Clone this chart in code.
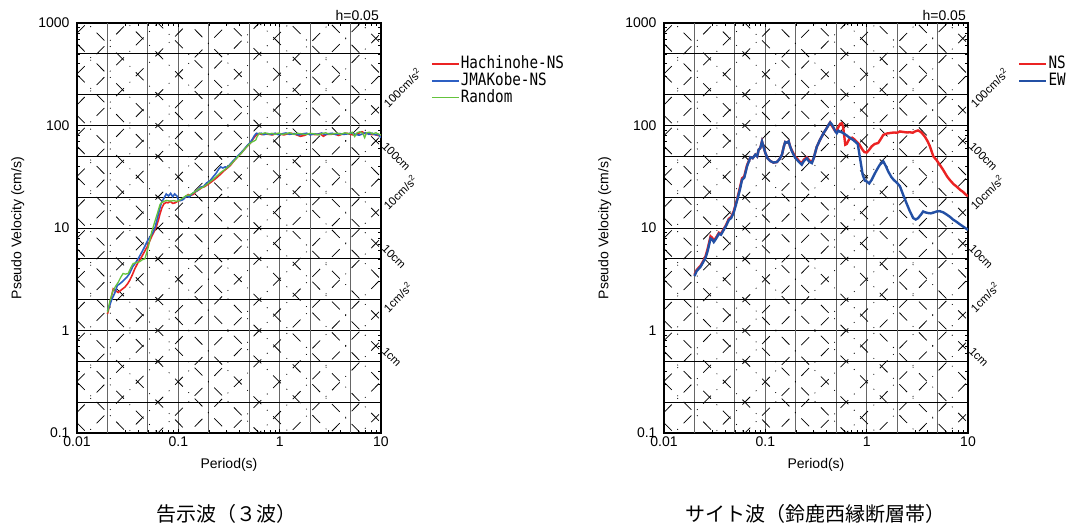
\documentclass[border=0pt]{standalone}
\usepackage{fontspec}
\setmainfont{Liberation Sans}
\newfontfamily\cjk{Noto Sans CJK JP}
\newfontfamily\legfont[FakeStretch=0.84]{DejaVu Sans Mono}
\usepackage{pgfplots}
\pgfplotsset{compat=1.18}

\definecolor{nsred}{RGB}{235,35,35}
\definecolor{ewblue}{RGB}{35,80,165}
\definecolor{kobeblue}{RGB}{45,95,195}
\definecolor{rndgreen}{RGB}{100,195,60}

\tikzset{
  diagline/.style={black, line width=0.75pt, dash pattern=on 11pt off 8pt on 0.9pt off 8pt},
  trilab/.style={font=\fontsize{11.5}{12}\selectfont, inner sep=0pt, anchor=west},
}
\pgfplotsset{
  legend image code/.code={\draw[#1] (0pt,0pt) -- (27pt,0pt);},
}
\newcommand\axisopts{
    xmode=log, ymode=log,
    xmin=0.01, xmax=10, ymin=0.1, ymax=1000,
    scale only axis, width=304pt, height=410pt,
    clip mode=individual,
    axis line style={line width=1.1pt},
    xtick={0.01,0.1,1,10}, xticklabels={0.01,0.1,1,10},
    ytick={0.1,1,10,100,1000}, yticklabels={0.1,1,10,100,1000},
    extra x ticks={0.02,0.05,0.2,0.5,2,5},
    extra y ticks={0.2,0.5,2,5,20,50,200,500},
    extra x tick labels={}, extra y tick labels={},
    extra tick style={grid=major, major tick length=0pt},
    grid=major,
    major x grid style={black!60, line width=1.1pt},
    major y grid style={black, line width=0.8pt},
    tick style={black, line width=0.6pt},
    tick label style={font=\fontsize{14}{16}\selectfont},
    yticklabel style={xshift=-4pt},
    xlabel={Period(s)}, ylabel={Pseudo Velocity (cm/s)},
    label style={font=\fontsize{14}{16}\selectfont},
    xlabel style={at={(axis description cs:0.5,-0.078)}, anchor=center},
    ylabel style={at={(axis description cs:-0.195,0.5)}, anchor=center},
    legend style={at={(1,1)}, anchor=north west, xshift=50pt, yshift=-33pt,
      draw=none, fill=none, inner sep=0pt, row sep=2pt,
      font=\legfont\fontsize{17}{17}\selectfont,
      nodes={inner sep=1pt, text height=11pt, text depth=2pt}},
    legend cell align=left}

% lines of constant acceleration (cm/s^2) and displacement (cm)
\newcommand\acc[2]{%
  \addplot[diagline, forget plot] coordinates {(0.01,1.59155e#1)(10,1.59155e#2)};
  \addplot[diagline, forget plot] coordinates {(0.01,3.18310e#1)(10,3.18310e#2)};
  \addplot[diagline, forget plot] coordinates {(0.01,7.95775e#1)(10,7.95775e#2)};}
\newcommand\dis[2]{%
  \addplot[diagline, forget plot] coordinates {(0.01,6.28319e#1)(10,6.28319e#2)};
  \addplot[diagline, forget plot] coordinates {(0.01,12.5664e#1)(10,12.5664e#2)};
  \addplot[diagline, forget plot] coordinates {(0.01,31.4159e#1)(10,31.4159e#2)};}
\newcommand\diaglines{%
  \acc{-4}{-1}\acc{-3}{0}\acc{-2}{1}\acc{-1}{2}\acc{0}{3}\acc{1}{4}\acc{2}{5}%
  \dis{-2}{-5}\dis{-1}{-4}\dis{0}{-3}\dis{1}{-2}\dis{2}{-1}\dis{3}{0}\dis{4}{1}\dis{5}{2}}
\newcommand\trilabels{%
  \node[trilab, rotate=45] at ([xshift=4pt]axis cs:10,159.155) {100cm/s\textsuperscript{2}};
  \node[trilab, rotate=-45] at ([xshift=3pt,yshift=2pt]axis cs:10,62.832) {100cm};
  \node[trilab, rotate=45] at ([xshift=4pt]axis cs:10,15.9155) {10cm/s\textsuperscript{2}};
  \node[trilab, rotate=-45] at ([xshift=3pt,yshift=2pt]axis cs:10,6.2832) {10cm};
  \node[trilab, rotate=45] at ([xshift=4pt]axis cs:10,1.59155) {1cm/s\textsuperscript{2}};
  \node[trilab, rotate=-45] at ([xshift=3pt,yshift=2pt]axis cs:10,0.62832) {1cm};
  \node[anchor=south east, inner sep=2pt, font=\fontsize{14}{16}\selectfont] at (rel axis cs:1,1) {h=0.05};}

\begin{document}
\begin{tikzpicture}[x=1pt,y=1pt]
\path[use as bounding box] (0,0) rectangle (1071,528);

\expandafter\axis\expandafter[\axisopts, at={(77pt,95pt)}, anchor=south west]
\diaglines
\addplot[nsred, line width=1.6pt] coordinates {
(0.020,1.45)(0.0205,1.6)(0.0213,1.9)(0.022,2.2)(0.0228,2.55)(0.024,2.45)(0.0255,2.35)
(0.0275,2.5)(0.0297,2.65)(0.0315,2.85)(0.0332,3.1)(0.0352,3.5)(0.0372,4.0)(0.040,4.6)
(0.0433,5.2)(0.046,5.8)(0.0494,6.6)(0.052,7.4)(0.0544,8.2)(0.058,9.3)(0.061,10.5)
(0.064,12.2)(0.066,13.8)(0.069,15.8)(0.072,17.2)(0.076,17.8)(0.079,17.6)(0.083,18.2)
(0.088,17.4)(0.093,17.6)(0.098,18.2)(0.104,18.6)(0.110,19.3)(0.118,20.0)(0.125,21.2)
(0.132,20.8)(0.141,21.3)(0.150,22.8)(0.160,23.6)(0.170,24.8)(0.180,25.2)(0.198,26.8)
(0.215,28.5)(0.235,30.5)(0.255,32.8)(0.279,35.8)(0.300,38.0)(0.325,40.6)(0.350,44.5)
(0.379,48.6)(0.410,52.5)(0.445,58.0)(0.480,63.0)(0.513,67.0)(0.545,73.5)(0.575,79.0)
(0.600,82.0)(0.63,83.5)(0.67,81.5)(0.72,83)(0.78,82)(0.85,81)(0.92,83.5)(1.0,82.5)
(1.1,81)(1.2,83)(1.3,84)(1.45,81.5)(1.6,78.5)(1.75,80)(1.9,83)(2.1,82)(2.3,81.5)
(2.5,83.5)(2.7,78.5)(2.9,82)(3.2,82)(3.5,83)(3.8,80)(4.2,82.5)(4.6,84)(5.0,82)
(5.5,80.5)(6.0,84)(6.5,87)(7.0,83)(7.5,84)(8.0,81.5)(8.7,82)(9.3,80)(10,79.5)};
\addlegendentry{Hachinohe-NS}
\addplot[kobeblue, line width=1.6pt] coordinates {
(0.020,1.55)(0.021,1.75)(0.022,2.0)(0.0235,2.3)(0.025,2.75)(0.027,2.9)(0.029,3.1)
(0.031,3.3)(0.033,3.6)(0.0355,4.2)(0.038,4.6)(0.041,5.2)(0.044,5.9)(0.047,6.7)
(0.050,7.6)(0.053,8.3)(0.056,9.0)(0.059,10.2)(0.062,12.3)(0.065,15.0)(0.068,17.5)
(0.072,19.5)(0.076,21.5)(0.080,20.5)(0.084,21.8)(0.088,20.2)(0.092,21.5)(0.097,20.5)
(0.100,18.8)(0.105,18.5)(0.112,19.0)(0.120,20.5)(0.128,20.0)(0.136,21.5)(0.145,22.5)
(0.155,23.2)(0.165,25.0)(0.178,25.5)(0.190,27.5)(0.205,28.8)(0.220,31.5)(0.235,34.0)
(0.250,37.5)(0.262,39.5)(0.275,38.5)(0.290,39.5)(0.305,39.0)(0.325,42.0)(0.350,45.5)
(0.379,49.5)(0.410,53.5)(0.445,58.5)(0.480,64.0)(0.513,68.5)(0.54,74)(0.565,80)
(0.59,84)(0.62,83)(0.66,84)(0.70,81.5)(0.76,83.5)(0.82,82)(0.90,84)(0.97,81.5)
(1.05,83)(1.15,84.5)(1.25,82)(1.4,83.5)(1.55,81)(1.7,83)(1.85,84)(2.0,81)(2.2,83)
(2.4,82)(2.6,84.5)(2.8,81.5)(3.0,83)(3.3,84)(3.6,81.5)(3.9,83.5)(4.3,82)(4.7,83)
(5.1,84.5)(5.6,82)(6.1,80.5)(6.6,83)(7.1,85)(7.6,82)(8.2,84)(8.8,81)(9.4,82)(10,76)};
\addlegendentry{JMAKobe-NS}
\addplot[rndgreen, line width=1.3pt] coordinates {
(0.020,1.5)(0.021,1.9)(0.0225,2.4)(0.024,2.7)(0.0255,2.95)(0.027,3.3)(0.0285,3.6)
(0.030,3.55)(0.032,3.6)(0.034,4.1)(0.0358,4.5)(0.0387,4.6)(0.0417,4.7)(0.044,4.9)
(0.0468,5.0)(0.0505,6.5)(0.0545,9.1)(0.059,11.8)(0.062,13.8)(0.066,17.0)(0.069,17.8)
(0.072,18.2)(0.077,18.6)(0.083,18.3)(0.090,18.5)(0.097,18.2)(0.104,18.8)(0.112,19.8)
(0.120,20.8)(0.130,21.0)(0.140,22.0)(0.150,23.0)(0.162,24.2)(0.175,25.0)(0.190,26.5)
(0.205,28.2)(0.222,30.0)(0.240,32.2)(0.262,34.8)(0.285,37.0)(0.310,39.5)(0.335,42.5)
(0.360,46.0)(0.390,50.0)(0.420,54.0)(0.455,59.5)(0.490,64.5)(0.525,68.5)(0.55,70)
(0.58,72)(0.60,78)(0.63,84)(0.67,83)(0.72,85)(0.78,82.5)(0.84,84)(0.90,82)(0.98,84.5)
(1.06,82)(1.15,83)(1.25,85)(1.38,82)(1.5,84)(1.65,83)(1.8,81.5)(2.0,84)(2.2,83)
(2.4,81)(2.6,83.5)(2.85,85)(3.1,82)(3.4,83)(3.7,84.5)(4.0,82)(4.4,85)(4.8,83)
(5.2,86)(5.5,78)(5.8,85)(6.2,87)(6.6,84)(6.9,76)(7.2,85)(7.7,86)(8.3,83)(8.9,85)
(9.5,82)(10,81)};
\addlegendentry{Random}
\trilabels
\endaxis

\expandafter\axis\expandafter[\axisopts, at={(664pt,95pt)}, anchor=south west]
\diaglines
\addplot[nsred, line width=2.4pt] coordinates {
(0.020,3.5)(0.021,3.9)(0.023,4.3)(0.0245,4.8)(0.0257,5.3)(0.027,6.3)(0.0288,8.3)
(0.030,8.0)(0.031,7.5)(0.033,8.2)(0.0348,9.0)(0.0365,8.8)(0.0389,9.8)(0.041,10.7)
(0.0436,12.3)(0.046,12.8)(0.0488,14.6)(0.0526,19.0)(0.056,24.5)(0.0589,30.5)(0.062,32)
(0.066,41)(0.0712,49)(0.075,48)(0.0798,52)(0.083,50)(0.0859,58)(0.089,60)(0.0927,70)
(0.096,62)(0.100,54)(0.105,48)(0.112,45)(0.120,43.5)(0.130,44)(0.138,47)(0.146,52)
(0.152,62)(0.157,69)(0.163,68)(0.170,70)(0.176,62)(0.183,57)(0.190,53)(0.198,49)
(0.205,48)(0.215,45)(0.229,43)(0.240,46.5)(0.257,49)(0.270,46)(0.288,44)(0.300,48)
(0.322,62)(0.345,72)(0.375,84)(0.400,93)(0.420,101)(0.436,107)(0.452,100)(0.470,94)
(0.490,88)(0.510,90)(0.530,98)(0.547,104)(0.567,105)(0.585,98)(0.600,80)(0.615,65)
(0.635,66)(0.655,70)(0.680,75)(0.72,76)(0.76,73)(0.80,69)(0.85,65)(0.90,59)(0.95,55)
(1.0,54.5)(1.06,58)(1.12,62.5)(1.20,66)(1.30,67.5)(1.38,74)(1.46,81)(1.58,83.5)
(1.70,84.5)(1.86,85.5)(2.0,85)(2.13,87.5)(2.3,86.5)(2.5,85.5)(2.67,86)(2.85,85)
(3.0,87.5)(3.22,89.5)(3.45,86)(3.75,78)(4.0,70)(4.2,63)(4.55,50)(4.89,46)(5.3,41)
(5.68,37)(6.2,32)(6.6,29.5)(7.2,26.8)(7.67,25.5)(8.4,23.5)(8.93,22.5)(9.5,21.2)(10,20.4)};
\addlegendentry{NS}
\addplot[ewblue, line width=2.4pt] coordinates {
(0.020,3.4)(0.021,3.8)(0.023,4.2)(0.0245,4.7)(0.0257,5.1)(0.027,6.0)(0.0288,7.9)
(0.030,7.7)(0.031,7.3)(0.033,8.0)(0.0348,8.8)(0.0365,8.6)(0.0389,9.6)(0.041,10.5)
(0.0436,12.0)(0.046,12.5)(0.0488,14.2)(0.0526,18.5)(0.056,23.5)(0.0589,29.5)(0.062,31)
(0.066,40)(0.0712,49)(0.075,48)(0.0798,52)(0.083,50)(0.0859,58)(0.089,60)(0.0927,70)
(0.096,62)(0.100,54)(0.105,48)(0.112,45)(0.120,43.5)(0.130,44)(0.138,47)(0.146,52)
(0.152,62)(0.157,69)(0.163,68)(0.170,70)(0.176,62)(0.183,56)(0.190,52)(0.198,48)
(0.205,46.5)(0.215,44)(0.229,41.5)(0.240,45)(0.257,48)(0.270,44.5)(0.288,43)(0.300,48)
(0.322,62)(0.345,72)(0.375,84)(0.400,93)(0.420,101)(0.436,107)(0.452,103)(0.470,96)
(0.490,88)(0.507,84)(0.525,89)(0.545,87)(0.567,86)(0.600,83)(0.635,80)(0.680,76)
(0.740,72)(0.790,68)(0.817,66)(0.86,48)(0.914,33)(0.96,29)(1.0,28.5)(1.06,27.2)
(1.12,29.5)(1.21,34.4)(1.28,38)(1.35,41.5)(1.46,44.7)(1.55,40)(1.63,35.7)(1.75,31.5)
(1.86,29.3)(2.0,27.5)(2.13,25.5)(2.33,20.2)(2.47,17.5)(2.65,14.8)(2.88,12.5)(3.05,12.1)
(3.22,12.5)(3.45,13.6)(3.61,14.5)(3.8,14.2)(4.04,14.0)(4.3,13.9)(4.53,14.1)(4.9,14.5)
(5.26,14.6)(5.7,14.2)(6.12,13.6)(6.6,12.9)(7.12,12.1)(7.7,11.5)(8.28,10.9)(9.0,10.3)(10,9.6)};
\addlegendentry{EW}
\trilabels
\endaxis

\node[font=\cjk\fontsize{20}{22}\selectfont] at (226,14) {告示波（３波）};
\node[font=\cjk\fontsize{20}{22}\selectfont] at (815,14) {サイト波（鈴鹿西縁断層帯）};
\end{tikzpicture}
\end{document}
